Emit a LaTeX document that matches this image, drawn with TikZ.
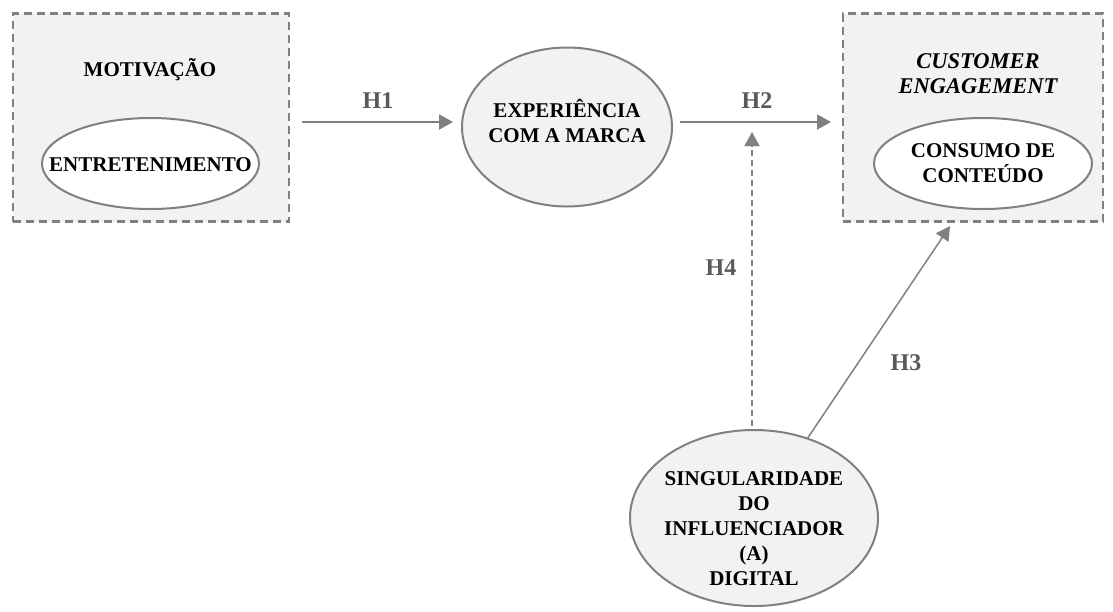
\documentclass[tikz,border=0pt]{standalone}
\usepackage{fontspec}
\setmainfont{Liberation Serif}
\usetikzlibrary{shapes.geometric,arrows.meta}
\definecolor{boxfill}{HTML}{F2F2F2}
\definecolor{edge}{HTML}{808080}
\definecolor{lab}{HTML}{595959}
\tikzset{
  groupbox/.style={draw=edge, fill=boxfill, line width=2.5pt, dash pattern=on 8pt off 5pt, inner sep=0pt},
  ell/.style={ellipse, draw=edge, line width=2pt, inner sep=0pt},
  txt/.style={font=\bfseries\fontsize{21}{25}\selectfont, align=center, inner sep=0pt, text=black},
  ittxt/.style={font=\bfseries\itshape\fontsize{22.5}{25}\selectfont, align=center, inner sep=0pt, text=black},
  hlab/.style={font=\bfseries\fontsize{24}{28}\selectfont, text=lab, inner sep=0pt},
  arr/.style={draw=edge, line width=2pt, -{Triangle[length=14pt,width=15pt]}},
  darr/.style={draw=edge, line width=1.3pt, dash pattern=on 6pt off 4pt, -{Triangle[length=14pt,width=15pt]}},
  tarr/.style={draw=edge, line width=1.5pt, -{Triangle[length=14pt,width=15pt]}}
}
\begin{document}
\begin{tikzpicture}[x=1pt,y=-1pt]
\useasboundingbox (0,0) rectangle (1113,611);
% group boxes
\node[groupbox, minimum width=276pt, minimum height=208pt] (mot) at (151,117.5) {};
\node[groupbox, minimum width=260pt, minimum height=208pt] (ce) at (973,117.5) {};
\node[txt] (motlab) at (150,70) {MOTIVAÇÃO};
\node[ittxt] (celab) at (978,74) {CUSTOMER\\ENGAGEMENT};
% ellipses
\node[ell, fill=white, minimum width=217pt, minimum height=91pt] (ent) at (150.5,163.5) {};
\node[txt] (entt) at (150.5,165) {ENTRETENIMENTO};
\node[ell, fill=boxfill, minimum width=210pt, minimum height=159pt] (exp) at (567,127) {};
\node[txt] (expt) at (567,121) {EXPERIÊNCIA\\COM A MARCA};
\node[ell, fill=white, minimum width=218pt, minimum height=91pt] (con) at (983,163.5) {};
\node[txt] (cont) at (983,163) {CONSUMO DE\\CONTEÚDO};
\node[ell, fill=boxfill, minimum width=248pt, minimum height=176pt] (sing) at (754,518) {};
\node[txt] (singt) at (754,529) {SINGULARIDADE\\DO\\INFLUENCIADOR\\(A)\\DIGITAL};
% connectors
\coordinate (h1s) at (302,122);
\coordinate (h1e) at (453,122);
\coordinate (h2s) at (680,122);
\coordinate (h2e) at (831,122);
\coordinate (h4e) at (752,132);
\coordinate (h3e) at (950,226);
\draw[arr] (h1s) -- (h1e);
\draw[arr] (h2s) -- (h2e);
\draw[darr] (sing.north -| h4e) ++(0,-3) -- (h4e);
\draw[tarr] (sing) -- (h3e);
% labels
\node[hlab] (H1) at (378,101) {H1};
\node[hlab] (H2) at (757,101) {H2};
\node[hlab] (H4) at (721,268) {H4};
\node[hlab] (H3) at (906,363) {H3};
\end{tikzpicture}
\end{document}
